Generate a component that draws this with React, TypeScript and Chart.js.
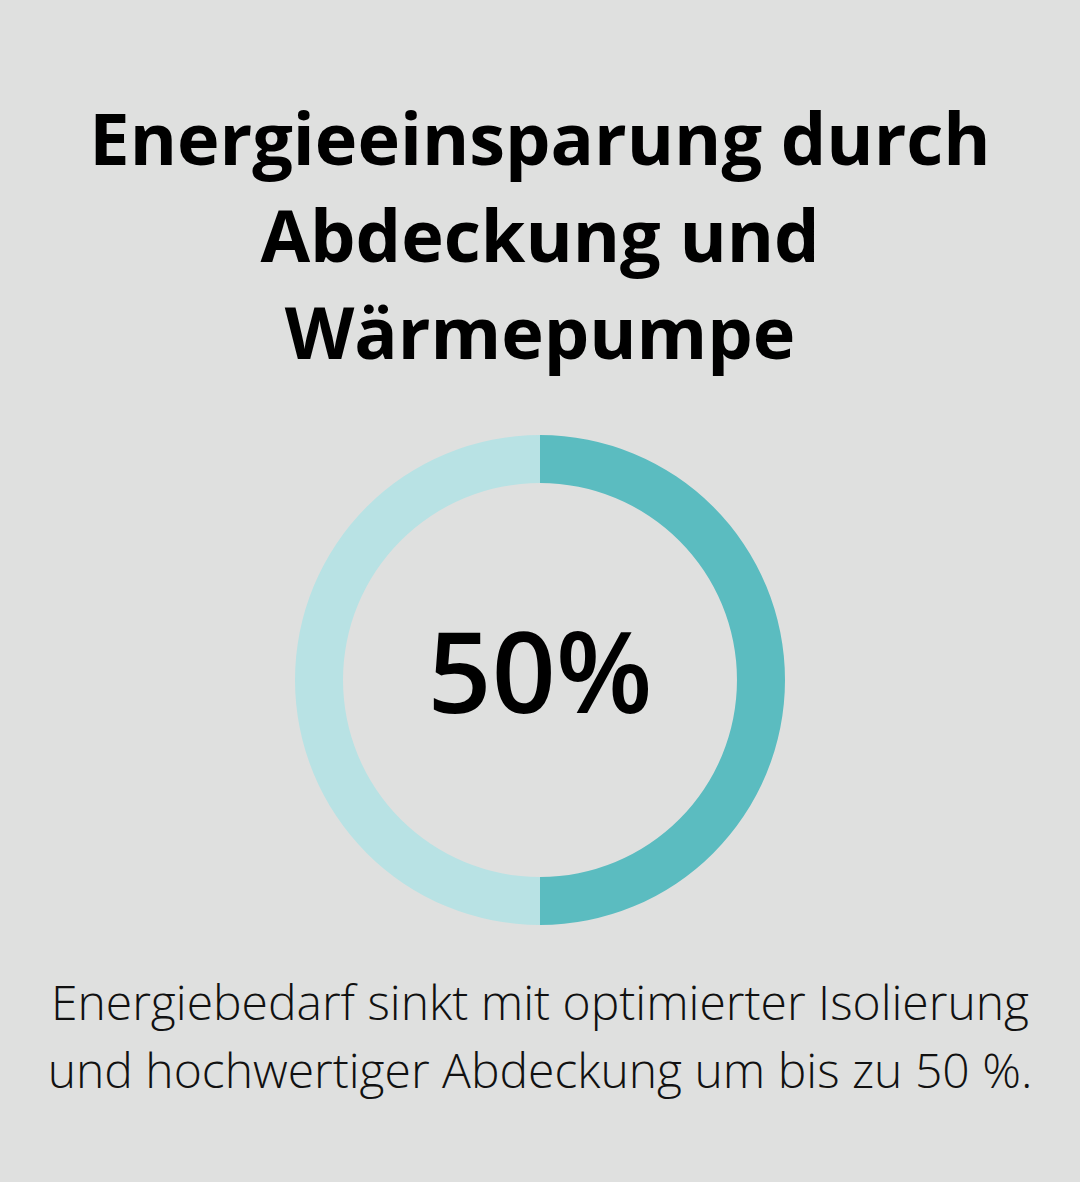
import React, { useEffect, useRef } from "react";
import { Chart, registerables } from "chart.js";

Chart.register(...registerables);

const titleLines = ["Energieeinsparung durch", "Abdeckung und", "Wärmepumpe"];
const categories = ["Einsparung", "Rest"];
const values = [50, 50];
const centerLabel = "50%";
const captionLines = [
  "Energiebedarf sinkt mit optimierter Isolierung",
  "und hochwertiger Abdeckung um bis zu 50 %.",
];
const colors = ["#5bbcc0", "#b8e2e4"];

export default function App() {
  const ref = useRef<HTMLCanvasElement | null>(null);

  useEffect(() => {
    if (!ref.current) return;
    const centerText = {
      id: "centerText",
      afterDraw(chart: any) {
        const { ctx } = chart;
        const meta = chart.getDatasetMeta(0);
        const arc = meta.data[0];
        if (!arc) return;
        ctx.save();
        ctx.font = "600 112px 'Open Sans'";
        ctx.fillStyle = "#000000";
        ctx.textAlign = "center";
        ctx.textBaseline = "alphabetic";
        ctx.fillText(centerLabel, arc.x, arc.y + 33);
        ctx.restore();
      },
    };
    const chart = new Chart(ref.current, {
      type: "doughnut",
      data: {
        labels: categories,
        datasets: [
          {
            data: values,
            backgroundColor: colors,
            borderWidth: 0,
          },
        ],
      },
      options: {
        animation: false,
        responsive: false,
        maintainAspectRatio: false,
        cutout: "80.4%",
        plugins: {
          legend: { display: false },
          tooltip: { enabled: false },
        },
        layout: { padding: 0 },
      },
      plugins: [centerText],
    });
    return () => chart.destroy();
  }, []);

  return (
    <div
      style={{
        position: "fixed",
        left: 0,
        top: 0,
        width: 1080,
        height: 1182,
        background: "#dfe0df",
        overflow: "hidden",
        fontFamily: "'Open Sans', sans-serif",
      }}
    >
      <div
        style={{
          position: "absolute",
          top: 89,
          left: 0,
          width: 1080,
          textAlign: "center",
          fontWeight: 700,
          fontSize: 72,
          lineHeight: "97px",
          color: "#000",
        }}
      >
        {titleLines.map((l, i) => (
          <div key={i}>{l}</div>
        ))}
      </div>
      <canvas
        ref={ref}
        width={490}
        height={490}
        style={{ position: "absolute", left: 295, top: 435, width: 490, height: 490 }}
      />
      <div
        style={{
          position: "absolute",
          top: 968,
          left: 0,
          width: 1080,
          textAlign: "center",
          fontWeight: 300,
          fontSize: 48,
          lineHeight: "68px",
          color: "#111",
        }}
      >
        {captionLines.map((l, i) => (
          <div key={i}>{l}</div>
        ))}
      </div>
    </div>
  );
}
